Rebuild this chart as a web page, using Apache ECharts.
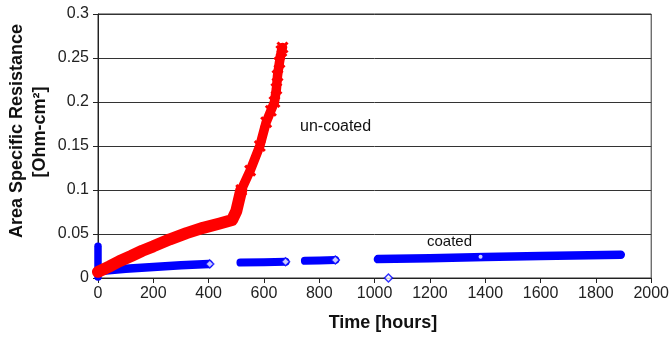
<!DOCTYPE html>
<html>
<head>
<meta charset="utf-8">
<script src="https://cdn.jsdelivr.net/npm/echarts@6/dist/echarts.min.js"></script>
<style>html,body{margin:0;padding:0;background:#fff}#c{width:672px;height:337px}</style>
</head>
<body>
<div id="c"></div>
<script>
// ---- data (hours, ASR Ohm-cm2) ----
var redLow = [[0,0.007],[40,0.013],[77,0.019],[120,0.025],[160,0.031],[200,0.036],[260,0.044],[320,0.051],[380,0.057],[440,0.062],[485,0.066],[500,0.076],[518,0.1]];
var redHigh = [[518,0.1],[550,0.122],[585,0.15],[608,0.177],[625,0.19],[638,0.2],[645,0.215],[649,0.23],[656,0.245],[663,0.258],[667,0.262]];
var blueSpike = [[0,0.001],[0,0.036]];
var blueSeg1 = [[8,0.008],[100,0.0105],[200,0.0125],[300,0.0145],[400,0.016]];
var blueSeg2 = [[515,0.0175],[600,0.018],[678,0.0185]];
var blueSeg3 = [[748,0.0195],[800,0.02],[858,0.0205]];
var blueSeg4 = [[1012,0.0215],[1200,0.0225],[1400,0.0238],[1600,0.025],[1890,0.0265]];
var blueHollow = [[404,0.016],[678,0.0185],[858,0.0205],[1050,0]];
var blueWhiteDot = [[1383,0.0242]];
var xTicks = {min:0, max:2000, interval:200};
var yTicks = {min:0, max:0.3, interval:0.05};

var FONT = 'Liberation Sans, Arial, sans-serif';
var chart = echarts.init(document.getElementById('c'), null, {renderer:'canvas'});
var BLUE = '#0000ff', RED = '#ff0000';
function seg(data, w){
  return {type:'line', data:data, showSymbol:false, symbol:'none', silent:true, animation:false,
    lineStyle:{color:BLUE, width:w, cap:'round', join:'round'}, z:2};
}
var crossPath = 'path://M0,0L10,10M10,0L0,10';
chart.setOption({
  animation:false,
  grid:{left:98, right:18, top:14, bottom:59, show:true, borderColor:'#333', borderWidth:1},
  xAxis:{type:'value', min:xTicks.min, max:xTicks.max, interval:xTicks.interval,
    axisLine:{show:true, lineStyle:{color:'#222', width:1}},
    axisTick:{show:true, inside:false, length:5, lineStyle:{color:'#222'}},
    axisLabel:{fontSize:16, color:'#222', fontFamily:FONT, margin:8,
      formatter:function(v){return String(v);}},
    splitLine:{show:false}},
  yAxis:{type:'value', min:yTicks.min, max:yTicks.max, interval:yTicks.interval,
    axisLine:{show:true, lineStyle:{color:'#222', width:1}},
    axisTick:{show:true, inside:false, length:5, lineStyle:{color:'#222'}},
    axisLabel:{fontSize:16, color:'#222', fontFamily:FONT, margin:9,
      formatter:function(v){return String(+v.toFixed(2));}},
    splitLine:{show:true, lineStyle:{color:'#333', width:1}}},
  series:[
    seg(blueSpike, 7.5),
    seg(blueSeg1, 8.5),
    seg(blueSeg2, 8),
    seg(blueSeg3, 8),
    seg(blueSeg4, 8.5),
    {type:'scatter', data:blueHollow, symbol:'diamond', symbolSize:[8,8], silent:true,
      itemStyle:{color:'#fff', borderColor:BLUE, borderWidth:1.5}, z:3},
    {type:'scatter', data:blueWhiteDot, symbol:'circle', symbolSize:4, silent:true,
      itemStyle:{color:'#fff', borderWidth:0}, z:3},
    {type:'line', data:redLow, showSymbol:false, symbol:'none', silent:true,
      lineStyle:{color:RED, width:12, cap:'round', join:'round'}, z:4},
    {type:'line', data:redHigh, showSymbol:true, symbol:crossPath, symbolSize:10, silent:true,
      itemStyle:{color:RED, borderColor:RED, borderWidth:3},
      lineStyle:{color:RED, width:9.5, cap:'round', join:'round'}, z:4}
  ],
  graphic:[
    {type:'text', x:17, y:131, rotation:Math.PI/2, silent:true,
      style:{text:'Area Specific Resistance', font:'bold 18px '+FONT, fill:'#111', textAlign:'center', textVerticalAlign:'middle'}},
    {type:'text', x:40, y:132, rotation:Math.PI/2, silent:true,
      style:{text:'[Ohm-cm\u00B2]', font:'bold 18px '+FONT, fill:'#111', textAlign:'center', textVerticalAlign:'middle'}},
    {type:'text', x:383, y:323, silent:true,
      style:{text:'Time [hours]', font:'bold 18px '+FONT, fill:'#111', textAlign:'center', textVerticalAlign:'middle'}},
    {type:'text', x:300, y:127, silent:true,
      style:{text:'un-coated', font:'16px '+FONT, fill:'#111', textAlign:'left', textVerticalAlign:'middle'}},
    {type:'text', x:427, y:242, silent:true,
      style:{text:'coated', font:'15px '+FONT, fill:'#111', textAlign:'left', textVerticalAlign:'middle'}}
  ]
});
</script>
</body>
</html>
